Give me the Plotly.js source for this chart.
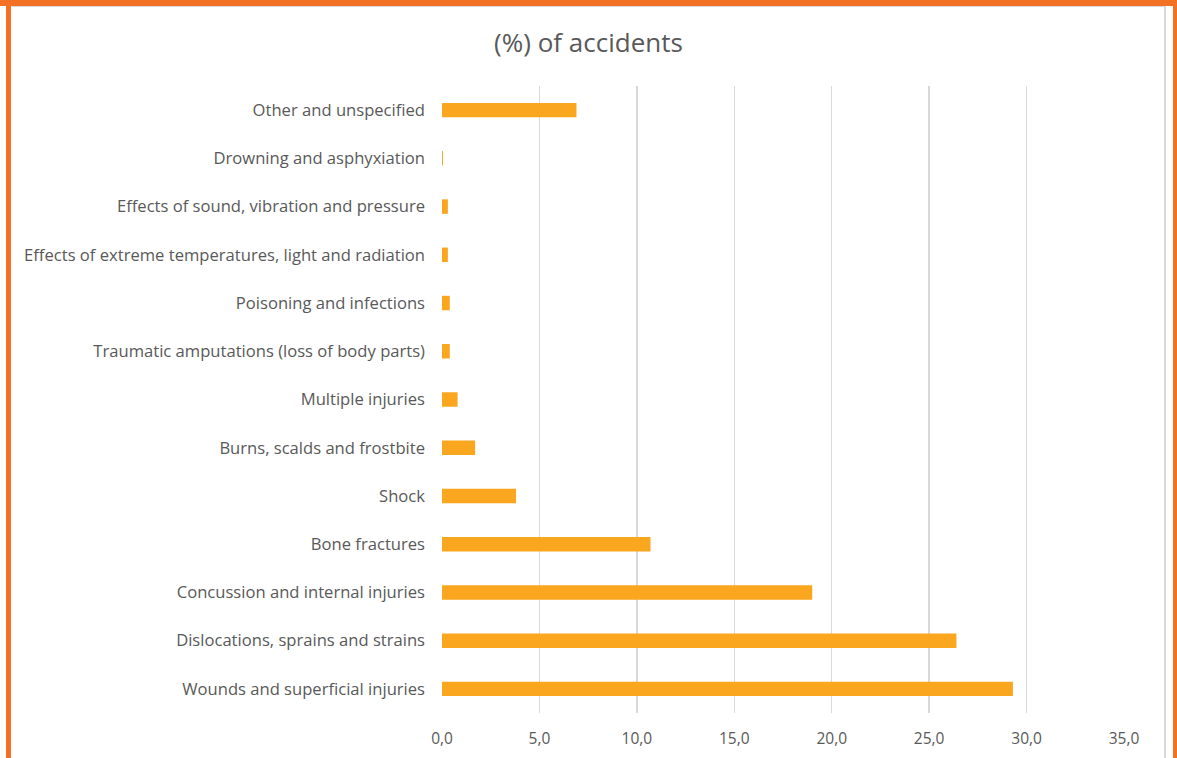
<!DOCTYPE html>
<html>
<head>
<meta charset="utf-8">
<script src="https://cdn.plot.ly/plotly-3.0.1.min.js"></script>
<style>
  html, body { margin: 0; padding: 0; background: #ffffff; }
  #wrap { position: relative; width: 1177px; height: 758px; overflow: hidden; }
  #chart { position: absolute; left: 0; top: 0; width: 1177px; height: 758px; }
  .ov { position: absolute; pointer-events: none; }
</style>
</head>
<body>
<div id="wrap">
  <div id="chart"></div>
  <div class="ov" style="left:11px; top:6px; width:1153px; height:760px; border-top:1.5px solid #d9d9d9; border-right:2px solid #d9d9d9;"></div>
  <div class="ov" style="left:0; top:0; width:1177px; height:6px; background:#f37124;"></div>
  <div class="ov" style="left:6px; top:0; width:5px; height:758px; background:#f37124;"></div>
  <div class="ov" style="left:1173px; top:0; width:4px; height:758px; background:#f37124;"></div>
</div>
<script>
const categories = [
  "Wounds and superficial injuries",
  "Dislocations, sprains and strains",
  "Concussion and internal injuries",
  "Bone fractures",
  "Shock",
  "Burns, scalds and frostbite",
  "Multiple injuries",
  "Traumatic amputations (loss of body parts)",
  "Poisoning and infections",
  "Effects of extreme temperatures, light and radiation",
  "Effects of sound, vibration and pressure",
  "Drowning and asphyxiation",
  "Other and unspecified"
];
const values = [29.3, 26.4, 19.0, 10.7, 3.8, 1.7, 0.8, 0.4, 0.4, 0.3, 0.3, 0.05, 6.9];
const tickValues = [0, 5, 10, 15, 20, 25, 30, 35];
const tickLabels = ["0,0", "5,0", "10,0", "15,0", "20,0", "25,0", "30,0", "35,0"];

const fontFam = "'Open Sans', Lato, sans-serif";

Plotly.newPlot("chart", [{
  type: "bar",
  orientation: "h",
  x: values,
  y: categories,
  width: 0.3,
  marker: { color: "#faa61e", line: { width: 0 } },
  hoverinfo: "x+y"
}], {
  width: 1177,
  height: 758,
  margin: { l: 442, r: 53, t: 86, b: 45 },
  paper_bgcolor: "#ffffff",
  plot_bgcolor: "#ffffff",
  title: {
    text: "(%) of accidents",
    x: 0.5,
    xref: "container",
    xanchor: "center",
    y: 1 - 43 / 758,
    yanchor: "middle",
    font: { family: fontFam, size: 26, color: "#595959" }
  },
  xaxis: {
    range: [0, 35],
    tickvals: tickValues,
    ticktext: tickLabels,
    showgrid: true,
    gridcolor: "#d9d9d9",
    gridwidth: 1.5,
    zeroline: false,
    showline: false,
    ticks: "",
    ticklabelstandoff: 14,
    tickfont: { family: fontFam, size: 15.5, color: "#595959" },
    fixedrange: true
  },
  yaxis: {
    type: "category",
    categoryorder: "array",
    categoryarray: categories,
    showgrid: false,
    zeroline: false,
    showline: false,
    ticks: "",
    ticklabelstandoff: 16,
    tickfont: { family: fontFam, size: 16.6, color: "#595959" },
    fixedrange: true
  },
  showlegend: false,
  bargap: 0.7
}, { displayModeBar: false, staticPlot: true });
</script>
</body>
</html>
